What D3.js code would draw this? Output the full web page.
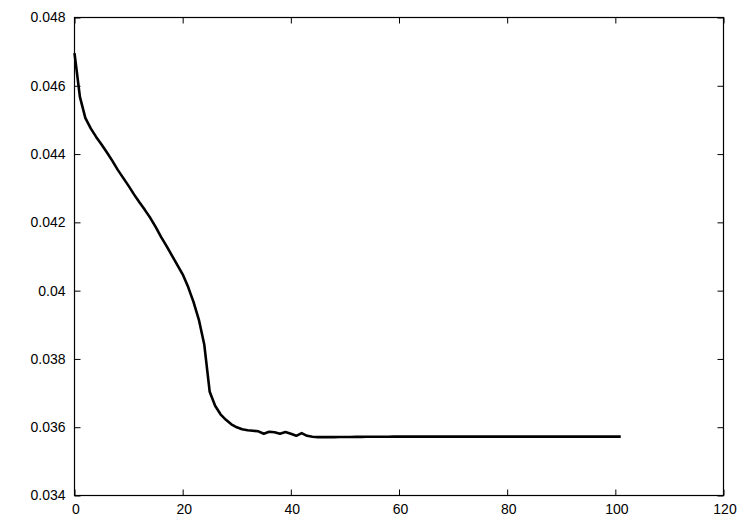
<!DOCTYPE html>
<html>
<head>
<meta charset="utf-8">
<script src="https://cdn.jsdelivr.net/npm/d3@7"></script>
<style>
  body { margin: 0; background: #fff; }
  #chart text { font-family: "Liberation Sans", Arial, Helvetica, sans-serif; font-size: 14px; fill: #000; }
</style>
</head>
<body>
<div id="chart"></div>
<script>
var iterations = [
  0, 1, 2, 3, 4, 5, 6, 7, 8, 9,
  10, 11, 12, 13, 14, 15, 16, 17, 18, 19,
  20, 21, 22, 23, 24, 25, 26, 27, 28, 29,
  30, 31, 32, 33, 34, 35, 36, 37, 38, 39,
  40, 41, 42, 43, 44, 45, 46, 47, 48, 49,
  50, 51, 52, 53, 54, 55, 56, 57, 58, 59,
  60, 61, 62, 63, 64, 65, 66, 67, 68, 69,
  70, 71, 72, 73, 74, 75, 76, 77, 78, 79,
  80, 81, 82, 83, 84, 85, 86, 87, 88, 89,
  90, 91, 92, 93, 94, 95, 96, 97, 98, 99,
  100, 101
];

var errors = [
  0.046955, 0.045675, 0.045060, 0.044752, 0.044503, 0.044281, 0.044047, 0.043801, 0.043537, 0.043303,
  0.043069, 0.042820, 0.042586, 0.042366, 0.042132, 0.041868, 0.041575, 0.041312, 0.041034, 0.040755,
  0.040477, 0.040111, 0.039672, 0.039145, 0.038413, 0.037037, 0.036627, 0.036378, 0.036217, 0.036085,
  0.035997, 0.035938, 0.035909, 0.035895, 0.035880, 0.035807, 0.035865, 0.035851, 0.035807, 0.035857,
  0.035807, 0.035748, 0.035827, 0.035748, 0.035719, 0.035710, 0.035710, 0.035710, 0.035711, 0.035712,
  0.035713, 0.035715, 0.035717, 0.035718, 0.035719, 0.035720, 0.035721, 0.035722, 0.035722, 0.035723,
  0.035723, 0.035724, 0.035724, 0.035724, 0.035725, 0.035725, 0.035725, 0.035725, 0.035725, 0.035725,
  0.035725, 0.035725, 0.035725, 0.035725, 0.035725, 0.035725, 0.035725, 0.035725, 0.035725, 0.035725,
  0.035725, 0.035725, 0.035725, 0.035725, 0.035725, 0.035725, 0.035725, 0.035725, 0.035725, 0.035725,
  0.035725, 0.035725, 0.035725, 0.035725, 0.035725, 0.035725, 0.035725, 0.035725, 0.035725, 0.035725,
  0.035725, 0.035725
];

var xTicks = [0, 20, 40, 60, 80, 100, 120];
var yTicks = [0.034, 0.036, 0.038, 0.04, 0.042, 0.044, 0.046, 0.048];

var width = 750, height = 525;
var margin = {top: 17.5, right: 26.5, bottom: 29.5, left: 74.5};

var svg = d3.select("#chart")
            .append("svg")
            .attr("width", width)
            .attr("height", height);

var x = d3.scaleLinear()
          .domain([0, 120])
          .range([margin.left, width - margin.right]);

var y = d3.scaleLinear()
          .domain([0.034, 0.048])
          .range([height - margin.bottom, margin.top]);

var fmt = d3.format("~g");

// inward ticks on all four sides
svg.append("g")
    .attr("transform", "translate(0," + y.range()[0] + ")")
    .call(d3.axisBottom(x).tickValues(xTicks).tickSize(-6).tickSizeOuter(0).tickPadding(9))
    .call(g => g.selectAll("text").attr("dx", 1));

svg.append("g")
    .attr("transform", "translate(0," + y.range()[1] + ")")
    .call(d3.axisTop(x).tickValues(xTicks).tickSize(-6).tickSizeOuter(0).tickFormat(""));

svg.append("g")
    .attr("transform", "translate(" + x.range()[0] + ",0)")
    .call(d3.axisLeft(y).tickValues(yTicks).tickSize(-6).tickSizeOuter(0).tickPadding(9).tickFormat(fmt));

svg.append("g")
    .attr("transform", "translate(" + x.range()[1] + ",0)")
    .call(d3.axisRight(y).tickValues(yTicks).tickSize(-6).tickSizeOuter(0).tickFormat(""));

svg.selectAll(".domain").remove();
svg.selectAll(".tick line").attr("stroke", "#000");
svg.selectAll(".tick text").attr("font-size", null).attr("font-family", null);

svg.append("rect")
    .attr("x", x.range()[0])
    .attr("y", y.range()[1])
    .attr("width", x.range()[1] - x.range()[0])
    .attr("height", y.range()[0] - y.range()[1])
    .attr("fill", "none")
    .attr("stroke", "#000")
    .attr("stroke-width", 1.2);

var line = d3.line()
             .x((d, i) => x(iterations[i]))
             .y(d => y(d));

svg.append("path")
    .datum(errors)
    .attr("d", line)
    .attr("fill", "none")
    .attr("stroke", "#000")
    .attr("stroke-width", 2.6)
    .attr("stroke-linejoin", "round");
</script>
</body>
</html>
